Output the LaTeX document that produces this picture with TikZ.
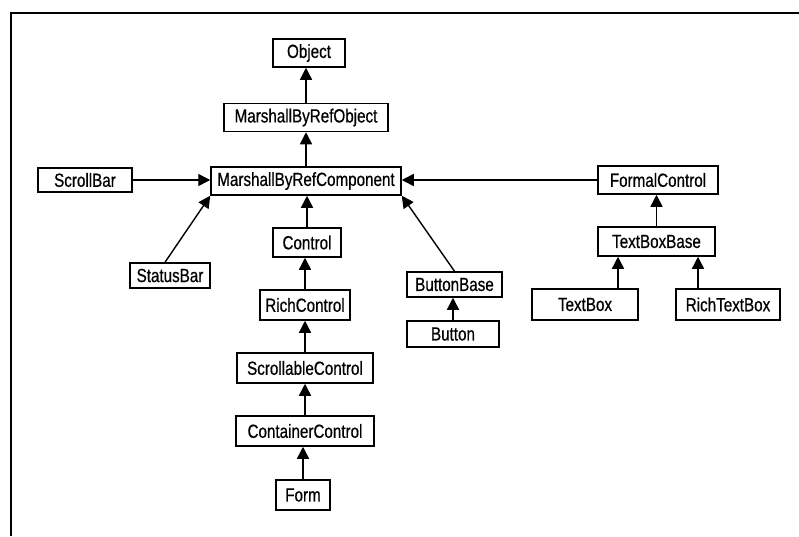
\documentclass[tikz,border=0pt]{standalone}
\usepackage{fontspec}
\setmainfont{Liberation Sans}[FakeStretch=0.8,UprightFeatures={FakeBold=0.6}]
\usetikzlibrary{arrows.meta}

\tikzset{
  cls/.style={draw, line width=1.5pt, inner sep=0pt, minimum height=28pt,
    font=\fontsize{19}{21}\selectfont},
  inh/.style={line width=1.4pt, -{Triangle[length=12pt,width=12pt]}}
}

\begin{document}
\begin{tikzpicture}[x=1pt,y=-1pt]
      \useasboundingbox (0,0) rectangle (799,536);
      \draw[line width=1.6pt] (11,536) -- (11,13) -- (799,13);
      % main column
      \node[cls,minimum width=72pt] (object) at (309,53) {Object};
      \node[cls,minimum width=164pt] (mbro) at (306,117.5) {MarshallByRefObject};
      \node[cls,minimum width=190pt] (mbrc) at (306,181) {MarshallByRefComponent};
      \node[cls,minimum width=68pt,minimum height=29pt] (control) at (307,242.5) {Control};
      \node[cls,minimum width=90pt,minimum height=30pt] (richctl) at (305,305) {RichControl};
      \node[cls,minimum width=136pt,minimum height=30pt] (scrollctl) at (305,368) {ScrollableControl};
      \node[cls,minimum width=138pt,minimum height=30pt] (contctl) at (305,431) {ContainerControl};
      \node[cls,minimum width=54pt,minimum height=30pt] (form) at (303,495) {Form};
      % left side
      \node[cls,minimum width=94pt,minimum height=24pt] (scrollbar) at (85,180) {ScrollBar};
      \node[cls,minimum width=80pt,minimum height=25pt] (statusbar) at (170,275.5) {StatusBar};
      % buttons
      \node[cls,minimum width=95pt,minimum height=25pt] (btnbase) at (454.5,284.5) {ButtonBase};
      \node[cls,minimum width=92pt,minimum height=26pt] (button) at (453,334) {Button};
      % text boxes
      \node[cls,minimum width=120pt] (formalctl) at (658,180) {FormalControl};
      \node[cls,minimum width=117pt,minimum height=29pt] (tbbase) at (656.5,241.5) {TextBoxBase};
      \node[cls,minimum width=106pt,minimum height=31pt] (textbox) at (585,304.5) {TextBox};
      \node[cls,minimum width=104pt,minimum height=31pt] (richtb) at (728,304.5) {RichTextBox};

      \draw[inh] (mbro.north) -- (mbro.north |- object.south);
      \draw[inh] (mbrc.north) -- (mbrc.north |- mbro.south);
      \draw[inh] (scrollbar.east) -- (scrollbar.east -| mbrc.west);
      \draw[inh] ([xshift=-5pt]statusbar.north) -- (mbrc.south west);
      \draw[inh] (control.north) -- (control.north |- mbrc.south);
      \draw[inh] (btnbase.north) -- (mbrc.south east);
      \draw[inh] (formalctl.west) -- (formalctl.west -| mbrc.east);
      \draw[inh] (richctl.north) -- (richctl.north |- control.south);
      \draw[inh] (scrollctl.north) -- (scrollctl.north |- richctl.south);
      \draw[inh] (contctl.north) -- (contctl.north |- scrollctl.south);
      \draw[inh] (form.north) -- (form.north |- contctl.south);
      \draw[inh] (button.north) -- (button.north |- btnbase.south);
      \draw[inh] (tbbase.north) -- (tbbase.north |- formalctl.south);
      \draw[inh] ([xshift=33pt]textbox.north) -- ([xshift=33pt]textbox.north |- tbbase.south);
      \draw[inh] ([xshift=-30pt]richtb.north) -- ([xshift=-30pt]richtb.north |- tbbase.south);
\end{tikzpicture}
\end{document}
